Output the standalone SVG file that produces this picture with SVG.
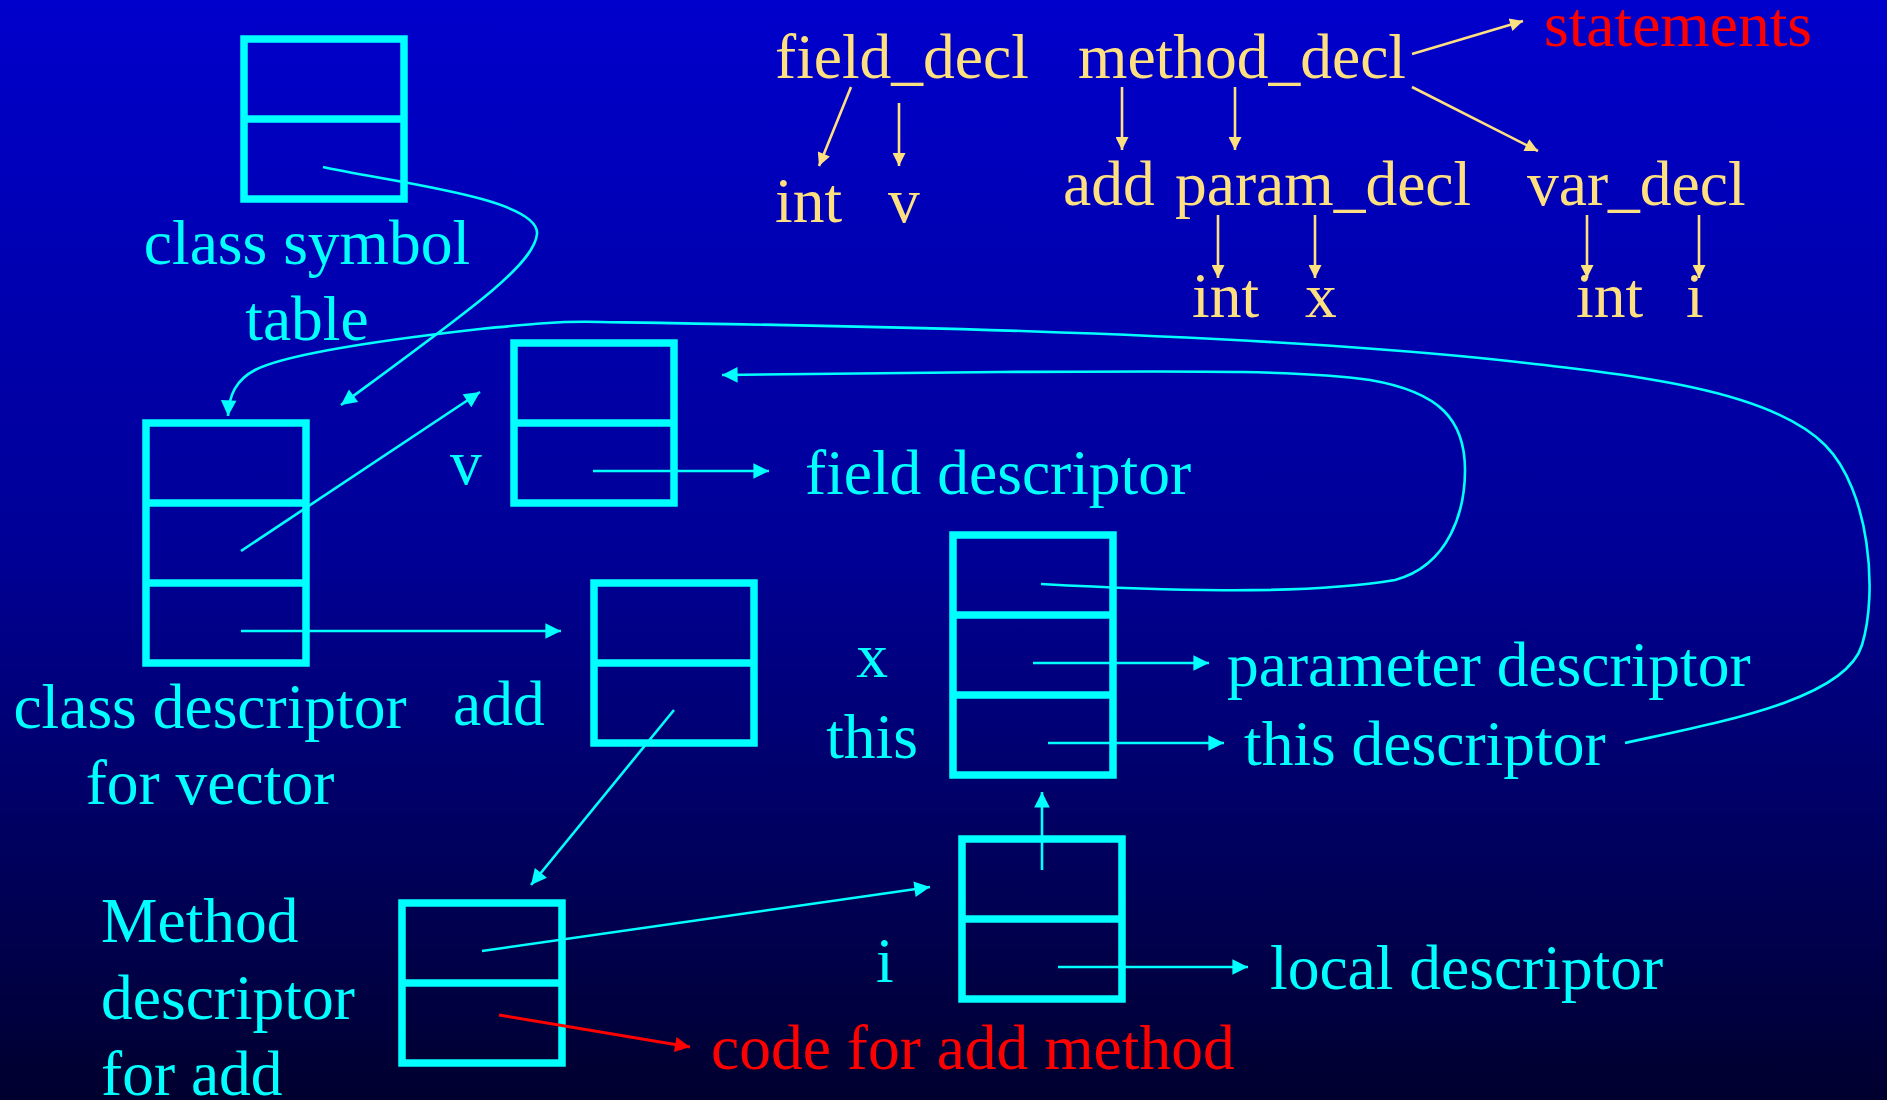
<svg xmlns="http://www.w3.org/2000/svg" width="1887" height="1100" viewBox="0 0 1887 1100">
<defs>
<linearGradient id="bg" x1="0" y1="0" x2="0" y2="1">
<stop offset="0" stop-color="#0000CC"/>
<stop offset="0.5" stop-color="#000096"/>
<stop offset="1" stop-color="#00002E"/>
</linearGradient>
<marker id="ac" viewBox="0 0 10 10" refX="10" refY="5" markerWidth="7" markerHeight="6" markerUnits="strokeWidth" orient="auto"><path d="M0,0 L10,5 L0,10 z" fill="#00FFFF"/></marker>
<marker id="ay" viewBox="0 0 10 10" refX="10" refY="5" markerWidth="6.5" markerHeight="5" markerUnits="strokeWidth" orient="auto"><path d="M0,0 L10,5 L0,10 z" fill="#FFE080"/></marker>
<marker id="ar" viewBox="0 0 10 10" refX="10" refY="5" markerWidth="6" markerHeight="5" markerUnits="strokeWidth" orient="auto"><path d="M0,0 L10,5 L0,10 z" fill="#FF0000"/></marker>
</defs>
<style>
text{font-family:"Liberation Serif","Times New Roman",serif;font-size:63.5px}
.c{fill:#00FFFF}
.y{fill:#FFE080}
.r{fill:#FF0000}
.box{fill:none;stroke:#00FFFF;stroke-width:7.5}
.lc{fill:none;stroke:#00FFFF;stroke-width:2.6;marker-end:url(#ac)}
.ly{fill:none;stroke:#FFE080;stroke-width:2.6;marker-end:url(#ay)}
.lr{fill:none;stroke:#FF0000;stroke-width:3;marker-end:url(#ar)}
</style>
<rect width="1887" height="1100" fill="url(#bg)"/>

<g id="parse-tree">
<text class="y" x="775" y="78">field_decl</text>
<text class="y" x="1078" y="78">method_decl</text>
<text class="r" x="1544" y="46">statements</text>
<text class="y" x="775" y="222">int</text>
<text class="y" x="888" y="222">v</text>
<text class="y" x="1063" y="205">add</text>
<text class="y" x="1175" y="205">param_decl</text>
<text class="y" x="1527" y="205">var_decl</text>
<text class="y" x="1192" y="317">int</text>
<text class="y" x="1305" y="317">x</text>
<text class="y" x="1576" y="317">int</text>
<text class="y" x="1686" y="317">i</text>
</g>

<g id="class-symbol-table">
<rect class="box" x="244" y="39" width="160" height="160"/>
<line class="box" x1="244" y1="119" x2="404" y2="119"/>
<text class="c" x="307" y="264" text-anchor="middle">class symbol</text>
<text class="c" x="307" y="340" text-anchor="middle">table</text>
</g>

<g id="class-descriptor">
<rect class="box" x="146" y="423" width="160" height="240"/>
<line class="box" x1="146" y1="503" x2="306" y2="503"/>
<line class="box" x1="146" y1="583" x2="306" y2="583"/>
<text class="c" x="210" y="728" text-anchor="middle">class descriptor</text>
<text class="c" x="210" y="804" text-anchor="middle">for vector</text>
</g>

<g id="field-box">
<rect class="box" x="514" y="343" width="160" height="160"/>
<line class="box" x1="514" y1="423" x2="674" y2="423"/>
<text class="c" x="450" y="484">v</text>
<text class="c" x="805" y="494">field descriptor</text>
</g>

<g id="add-box">
<rect class="box" x="594" y="583" width="160" height="160"/>
<line class="box" x1="594" y1="663" x2="754" y2="663"/>
<text class="c" x="453" y="725">add</text>
</g>

<g id="param-box">
<rect class="box" x="953" y="535" width="160" height="240"/>
<line class="box" x1="953" y1="615" x2="1113" y2="615"/>
<line class="box" x1="953" y1="695" x2="1113" y2="695"/>
<text class="c" x="872" y="677" text-anchor="middle">x</text>
<text class="c" x="872" y="758" text-anchor="middle">this</text>
<text class="c" x="1227" y="686">parameter descriptor</text>
<text class="c" x="1244" y="765">this descriptor</text>
</g>

<g id="method-descriptor">
<rect class="box" x="402" y="903" width="160" height="160"/>
<line class="box" x1="402" y1="983" x2="562" y2="983"/>
<text class="c" x="101" y="942">Method</text>
<text class="c" x="101" y="1019">descriptor</text>
<text class="c" x="101" y="1095">for add</text>
<text class="r" x="711" y="1069">code for add method</text>
</g>

<g id="local-box">
<rect class="box" x="962" y="839" width="160" height="160"/>
<line class="box" x1="962" y1="919" x2="1122" y2="919"/>
<text class="c" x="876" y="982">i</text>
<text class="c" x="1270" y="989">local descriptor</text>
</g>

<g id="connectors">
<line class="ly" x1="851" y1="87" x2="819" y2="166"/>
<line class="ly" x1="899" y1="103" x2="899" y2="166"/>
<line class="ly" x1="1122" y1="87" x2="1122" y2="150"/>
<line class="ly" x1="1235" y1="87" x2="1235" y2="150"/>
<line class="ly" x1="1412" y1="87" x2="1538" y2="151"/>
<line class="ly" x1="1412" y1="54" x2="1523" y2="21"/>
<line class="ly" x1="1218" y1="215" x2="1218" y2="278"/>
<line class="ly" x1="1315" y1="215" x2="1315" y2="278"/>
<line class="ly" x1="1587" y1="215" x2="1587" y2="278"/>
<line class="ly" x1="1699" y1="215" x2="1699" y2="278"/>

<path class="lc" d="M 323 167 C 390 182, 540 198, 537 234 C 534 265, 470 310, 341 405"/>
<path class="lc" d="M 1625 743 C 1720 722, 1845 700, 1862 645 C 1878 593, 1870 490, 1825 445 C 1770 390, 1640 375, 1480 358 C 1200 330, 800 325, 600 322 C 560 321, 530 324, 480 329 C 400 338, 290 352, 255 370 C 236 380, 229 395, 228 416"/>
<line class="lc" x1="241" y1="551" x2="480" y2="392"/>
<line class="lc" x1="241" y1="631" x2="561" y2="631"/>
<line class="lc" x1="593" y1="471" x2="769" y2="471"/>
<line class="lc" x1="674" y1="710" x2="531" y2="885"/>
<path class="lc" d="M 1041 584 C 1150 590, 1300 596, 1395 580 C 1450 565, 1465 510, 1465 470 C 1465 420, 1440 392, 1370 380 C 1300 370, 1200 371, 1000 372 L 722 375"/>
<line class="lc" x1="1033" y1="663" x2="1209" y2="663"/>
<line class="lc" x1="1048" y1="743" x2="1224" y2="743"/>
<line class="lc" x1="482" y1="951" x2="930" y2="887"/>
<line class="lc" x1="1042" y1="870" x2="1042" y2="792"/>
<line class="lc" x1="1058" y1="967" x2="1248" y2="967"/>
<line class="lr" x1="499" y1="1015" x2="690" y2="1047"/>
</g>
</svg>
